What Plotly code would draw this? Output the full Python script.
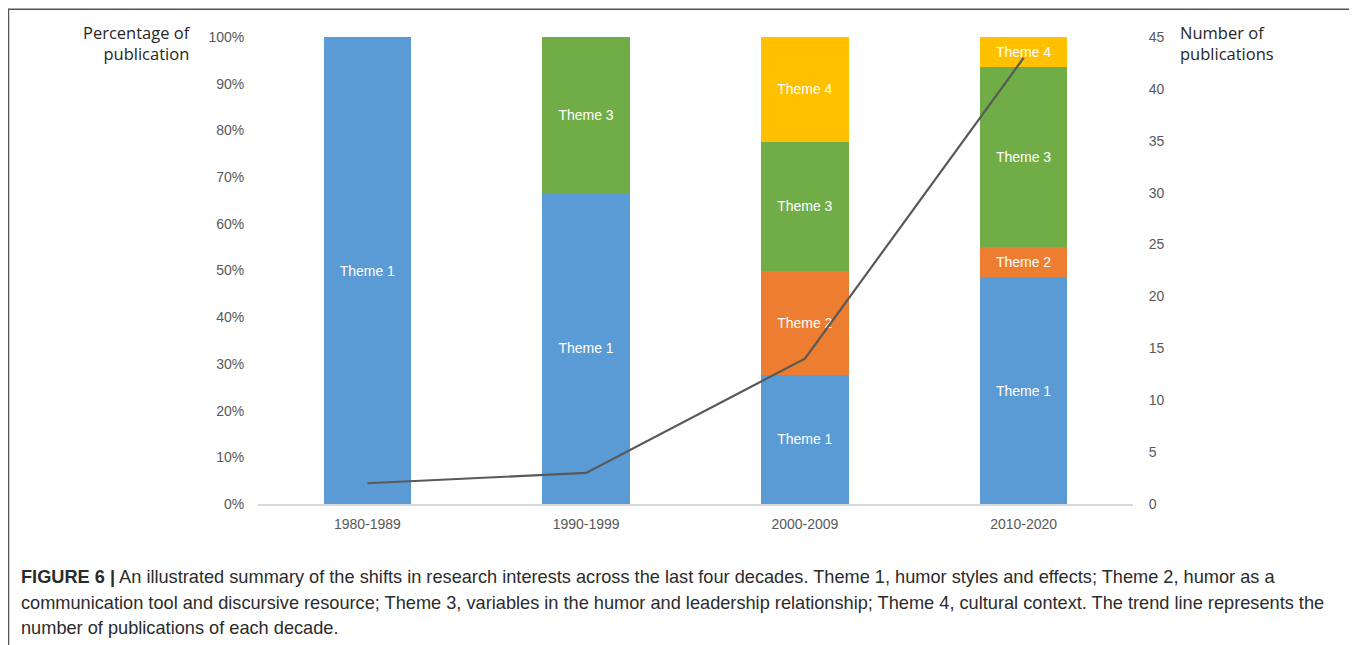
import plotly.graph_objects as go

# ---- data ----
decades = ["1980-1989", "1990-1999", "2000-2009", "2010-2020"]
theme1_pct = [100, 66.7, 27.7, 48.6]
theme2_pct = [None, None, 22.2, 6.4]
theme3_pct = [None, 33.3, 27.7, 38.6]
theme4_pct = [None, None, 22.4, 6.4]
publications = [2, 3, 14, 43]
pct_ticks = [0, 10, 20, 30, 40, 50, 60, 70, 80, 90, 100]
pct_labels = [f"{v}%" for v in pct_ticks]
count_ticks = [0, 5, 10, 15, 20, 25, 30, 35, 40, 45]

colors = {"Theme 1": "#5B9BD5", "Theme 2": "#ED7D31", "Theme 3": "#70AD47", "Theme 4": "#FFC000"}

# the page has an 8px body margin; compensate so the picture lines up
OFF = 8
W, H = 1357 - OFF, 645 - OFF
L, R, T, B = 258 - OFF, 1133 - OFF, 36.7 - OFF, 504.5 - OFF

def px(x):
    return (x - OFF - L) / (R - L)

def py(y):
    return (B - (y - OFF)) / (B - T)

fig = go.Figure()
for name, vals in [("Theme 1", theme1_pct), ("Theme 2", theme2_pct),
                   ("Theme 3", theme3_pct), ("Theme 4", theme4_pct)]:
    fig.add_trace(go.Bar(
        x=decades, y=vals, name=name,
        marker=dict(color=colors[name], line=dict(width=0)),
        width=0.4,
        text=[name if v else "" for v in vals],
        textposition="inside", insidetextanchor="middle", textangle=0,
        constraintext="none",
        textfont=dict(family="Liberation Sans, Arial", size=14, color="white"),
        hoverinfo="skip",
    ))

fig.add_trace(go.Scatter(
    x=decades, y=publications, yaxis="y2", mode="lines",
    line=dict(color="#595959", width=2.2), name="Publications",
))

tickfont = dict(family="Liberation Sans, Arial", size=14, color="#595959")

fig.update_layout(
    width=W, height=H,
    margin=dict(l=L, r=W - R, t=T, b=H - B, pad=0),
    paper_bgcolor="white", plot_bgcolor="white",
    barmode="stack", showlegend=False,
    uniformtext=dict(minsize=14, mode="show"),
    xaxis=dict(
        type="category", range=[-0.5, 3.5], showgrid=False,
        showline=True, linecolor="#D9D9D9", linewidth=1.5,
        ticks="outside", ticklen=6, tickcolor="rgba(0,0,0,0)",
        tickfont=tickfont, zeroline=False,
    ),
    yaxis=dict(
        range=[0, 100], tickvals=pct_ticks, ticktext=pct_labels,
        showgrid=False, zeroline=False, showline=False,
        ticks="outside", ticklen=10, tickcolor="rgba(0,0,0,0)",
        tickfont=tickfont,
    ),
    yaxis2=dict(
        range=[0, 45], tickvals=count_ticks, overlaying="y", side="right",
        showgrid=False, zeroline=False, showline=False,
        ticks="outside", ticklen=12, tickcolor="rgba(0,0,0,0)",
        tickfont=tickfont,
    ),
    shapes=[dict(
        type="rect", xref="paper", yref="paper",
        x0=px(8.5), x1=px(1353.5), y0=py(660), y1=py(9),
        line=dict(color="#555555", width=1.5), fillcolor="rgba(0,0,0,0)",
        layer="above",
    )],
)

title_font = dict(family="Open Sans, Noto Sans", size=16.5, color="#262626")
fig.add_annotation(
    xref="paper", yref="paper", x=px(193), y=py(43), xanchor="right", yanchor="middle",
    text="Percentage of<br>publication", align="right", showarrow=False, font=title_font,
)
fig.add_annotation(
    xref="paper", yref="paper", x=px(1178), y=py(43), xanchor="left", yanchor="middle",
    text="Number of<br>publications", align="left", showarrow=False, font=title_font,
)

cap_font = dict(family="Liberation Sans Narrow, Liberation Sans", size=18.2, color="#2b2b2b")
caption_lines = [
    "<b>FIGURE 6 |</b> An illustrated summary of the shifts in research interests across the last four decades. Theme 1, humor styles and effects; Theme 2, humor as a",
    "communication tool and discursive resource; Theme 3, variables in the humor and leadership relationship; Theme 4, cultural context. The trend line represents the",
    "number of publications of each decade.",
]
for i, line in enumerate(caption_lines):
    fig.add_annotation(
        xref="paper", yref="paper", x=px(19), y=py(578 + i * 25.5),
        xanchor="left", yanchor="middle", text=line, align="left",
        showarrow=False, font=cap_font,
    )

fig.write_html("out.html")
